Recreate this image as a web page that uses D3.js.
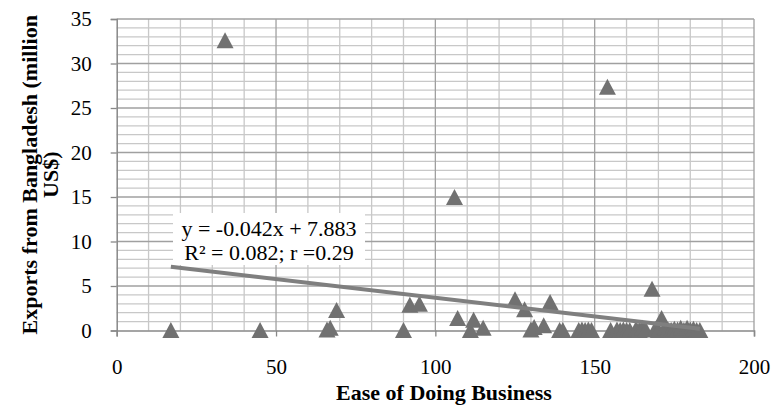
<!DOCTYPE html>
<html><head><meta charset="utf-8">
<script src="https://cdn.jsdelivr.net/npm/d3@7"></script>
<style>body{margin:0;background:#fff}svg{display:block}</style>
</head><body>
<svg id="c" width="773" height="405"></svg>
<script>
// Data: Ease of Doing Business rank vs Exports from Bangladesh (million US$)
const easeRank = [17,34,45,66,67,69,90,92,95,106,107,111,112,115,125,128,130,131,134,136,139,140,145,146,147,148,149,154,155,157,158,159,160,161,163,164,165,166,168,169,170,171,172,173,174,175,176,177,178,179,180,181,182,183];
const exportsM = [0.05,32.6,0.05,0.1,0.3,2.3,0.05,2.9,3.0,15.0,1.4,0.05,1.2,0.3,3.5,2.4,0.1,0.4,0.6,3.2,0.05,0.05,0.05,0.1,0.05,0.1,0.05,27.4,0.05,0.1,0.05,0.1,0.05,0.05,0.2,0.05,0.3,0.1,4.7,0.2,0.05,1.4,0.3,0.1,0.05,0.2,0.1,0.3,0.05,0.3,0.1,0.2,0.05,0.05];
const xTicks = [0,50,100,150,200];
const yTicks = [0,5,10,15,20,25,30,35];
const trendSlope = -0.042, trendIntercept = 7.883;
const eqLines = ["y = -0.042x + 7.883", "R\u00B2 = 0.082; r =0.29"];
const xTitle = "Ease of Doing Business";
const yTitleLines = ["Exports from Bangladesh (million", "US$)"];

const svg = d3.select("#c");
const L = 116.7, R = 754, T = 19, B = 330.5;
const x = d3.scaleLinear().domain([0,200]).range([L,R]);
const y = d3.scaleLinear().domain([0,35]).range([B,T]);
const serif = "Liberation Serif, Times New Roman, serif";

// minor grid
const g = svg.append("g");
g.selectAll("line.vm").data(d3.range(10,201,10).filter(v=>v%50)).join("line")
  .attr("x1",d=>x(d)).attr("x2",d=>x(d)).attr("y1",T).attr("y2",B)
  .attr("stroke","#c8c8c8").attr("stroke-width",1.3);
g.selectAll("line.hm").data(d3.range(1,36).filter(v=>v%5)).join("line")
  .attr("x1",L).attr("x2",R).attr("y1",d=>y(d)).attr("y2",d=>y(d))
  .attr("stroke","#c8c8c8").attr("stroke-width",1.3);
// major grid
g.selectAll("line.vM").data(xTicks.slice(1)).join("line")
  .attr("x1",d=>x(d)).attr("x2",d=>x(d)).attr("y1",T).attr("y2",B)
  .attr("stroke","#a0a0a0").attr("stroke-width",1.3);
g.selectAll("line.hM").data(yTicks.slice(1)).join("line")
  .attr("x1",L).attr("x2",R).attr("y1",d=>y(d)).attr("y2",d=>y(d))
  .attr("stroke","#a0a0a0").attr("stroke-width",1.3);

// axes
const xa = svg.append("g").attr("transform",`translate(0,${B})`)
  .call(d3.axisBottom(x).tickValues(xTicks).tickSizeOuter(0).tickSize(6).tickPadding(23));
const ya = svg.append("g").attr("transform",`translate(${L},0)`)
  .call(d3.axisLeft(y).tickValues(yTicks).tickSizeOuter(0).tickSize(6).tickPadding(19));
[xa,ya].forEach(a=>{
  a.attr("font-family",serif).attr("font-size",21);
  a.select(".domain").attr("stroke","#888").attr("stroke-width",1.5);
  a.selectAll(".tick line").attr("stroke","#888").attr("stroke-width",1.3);
  a.selectAll("text").style("font-family",serif).style("font-size","21px").attr("fill","#000");
});

// points (triangles)
svg.append("g").selectAll("path").data(easeRank.map((d,i)=>[d,exportsM[i]])).join("path")
  .attr("d",d=>{const cx=x(d[0]),cy=y(d[1]);return `M${cx-8.5},${cy+8}L${cx+8.5},${cy+8}L${cx},${cy-8}Z`;})
  .attr("fill","#717171");

// trend line
const xmin = d3.min(easeRank), xmax = d3.max(easeRank);
svg.append("line")
  .attr("x1",x(xmin)).attr("y1",y(trendSlope*xmin+trendIntercept))
  .attr("x2",x(xmax)).attr("y2",y(trendSlope*xmax+trendIntercept))
  .attr("stroke","#7f7f7f").attr("stroke-width",4);

// equation label
svg.append("rect").attr("x",173).attr("y",213).attr("width",192).attr("height",52).attr("fill","#fff");
svg.append("g").selectAll("text").data(eqLines).join("text")
  .attr("x",269).attr("y",(d,i)=>236+i*24).attr("text-anchor","middle")
  .style("font-family",serif).style("font-size","22px").attr("fill","#000").text(d=>d);

// titles
svg.append("text").attr("x",444).attr("y",400).attr("text-anchor","middle")
  .style("font-family",serif).style("font-size","22px").attr("font-weight","bold").text(xTitle);
svg.append("g").attr("transform",`translate(0,${(T+B)/2}) rotate(-90)`)
  .selectAll("text").data(yTitleLines).join("text")
  .attr("x",0).attr("y",(d,i)=>37+i*21).attr("text-anchor","middle")
  .style("font-family",serif).style("font-size","22px").attr("font-weight","bold").text(d=>d);
</script>
</body></html>
